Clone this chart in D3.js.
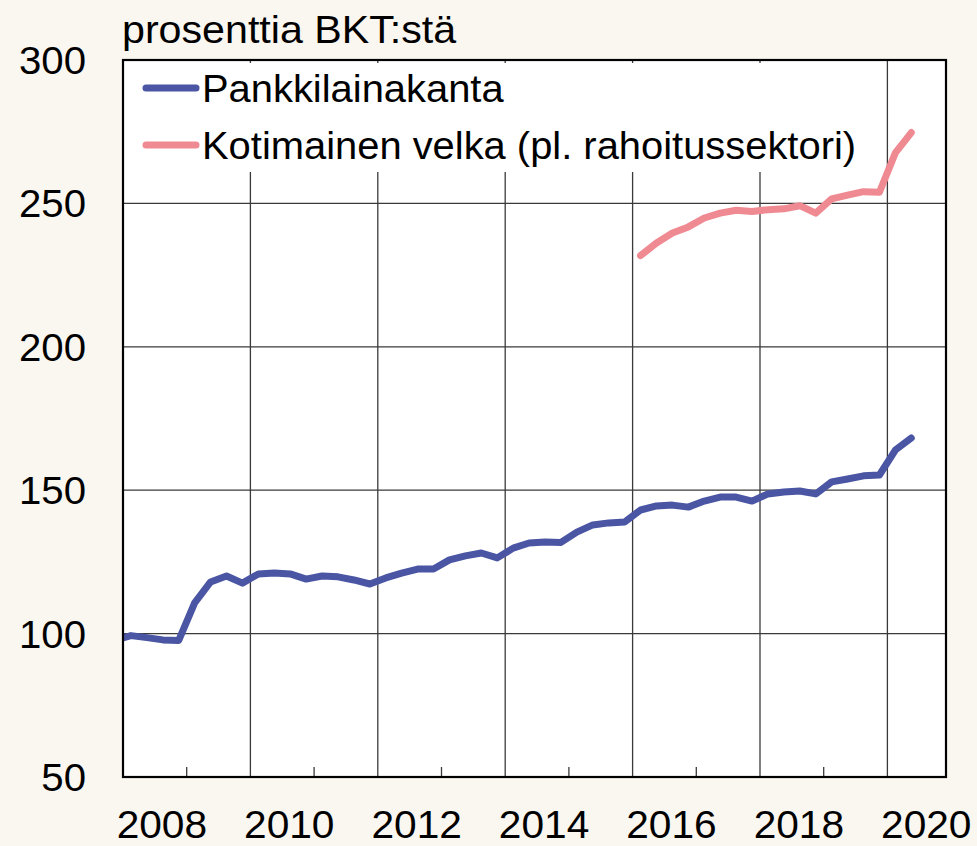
<!DOCTYPE html>
<html>
<head>
<meta charset="utf-8">
<script src="https://cdn.jsdelivr.net/npm/d3@7"></script>
<style>
  html, body { margin: 0; padding: 0; background: #faf6f0; }
  svg { display: block; font-family: "Liberation Sans", Arial, sans-serif; }
</style>
</head>
<body>
<svg id="chart" width="977" height="846"></svg>
<script>
// ---- data ----
const quarters = [
  "2007Q4",
  "2008Q1","2008Q2","2008Q3","2008Q4",
  "2009Q1","2009Q2","2009Q3","2009Q4",
  "2010Q1","2010Q2","2010Q3","2010Q4",
  "2011Q1","2011Q2","2011Q3","2011Q4",
  "2012Q1","2012Q2","2012Q3","2012Q4",
  "2013Q1","2013Q2","2013Q3","2013Q4",
  "2014Q1","2014Q2","2014Q3","2014Q4",
  "2015Q1","2015Q2","2015Q3","2015Q4",
  "2016Q1","2016Q2","2016Q3","2016Q4",
  "2017Q1","2017Q2","2017Q3","2017Q4",
  "2018Q1","2018Q2","2018Q3","2018Q4",
  "2019Q1","2019Q2","2019Q3","2019Q4",
  "2020Q1","2020Q2"
];
const pankkilainakanta = [
  97.8,
  99.3, 98.6, 97.8, 97.6,
  110.7, 118.0, 120.1, 117.6,
  120.8, 121.1, 120.8, 119.0,
  120.1, 119.8, 118.7, 117.3,
  119.4, 121.1, 122.5, 122.5,
  125.7, 127.1, 128.1, 126.4,
  129.8, 131.6, 131.9, 131.8,
  135.4, 137.9, 138.6, 138.9,
  143.1, 144.5, 144.8, 144.1,
  146.2, 147.6, 147.6, 146.2,
  148.7, 149.4, 149.7, 148.7,
  152.9, 153.9, 155.0, 155.3,
  164.0, 168.2
];
const kotimainenVelka = [
  null,
  null, null, null, null,
  null, null, null, null,
  null, null, null, null,
  null, null, null, null,
  null, null, null, null,
  null, null, null, null,
  null, null, null, null,
  null, null, null, null,
  231.8, 236.2, 239.7, 241.8,
  244.9, 246.6, 247.6, 247.2,
  247.8, 248.1, 249.2, 246.6,
  251.6, 252.9, 254.1, 253.9,
  267.6, 274.7
];
const seriesNames = ["Pankkilainakanta", "Kotimainen velka (pl. rahoitussektori)"];
const seriesColors = ["#4a55a3", "#f08a92"];
const yTicks = [50, 100, 150, 200, 250, 300];
const xLabelYears = [2008, 2010, 2012, 2014, 2016, 2018, 2020];
const xGridYears = [2010, 2012, 2014, 2016, 2018, 2020];
const xMinorYears = [2009, 2011, 2013, 2015, 2017, 2019];
const yTitle = "prosenttia BKT:stä";

// ---- layout ----
const L = 123, R = 946, T = 60, B = 777;
const svg = d3.select("#chart");

const x = d3.scaleLinear().domain([2008, 2020.92]).range([L, R]);
const y = d3.scaleLinear().domain([50, 300]).range([B, T]);

function qToYear(q) {
  const yr = +q.slice(0, 4), qq = +q.slice(5);
  return yr + (qq - 0.5) / 4;
}
// text with slight horizontal stretch to match the reference's wider glyphs
function stretched(sel, px, py, sx) {
  return sel.attr("transform", `translate(${px},${py}) scale(${sx},1)`).attr("x", 0).attr("y", 0);
}

// plot background
svg.append("rect").attr("x", L).attr("y", T).attr("width", R - L).attr("height", B - T)
  .attr("fill", "#ffffff");

// grid
const grid = svg.append("g").attr("stroke", "#3a3a3a").attr("stroke-width", 1.3);
grid.selectAll("line.h").data(yTicks.filter(v => v > 50 && v < 300)).join("line")
  .attr("x1", L).attr("x2", R).attr("y1", d => y(d)).attr("y2", d => y(d));
grid.selectAll("line.v").data(xGridYears).join("line")
  .attr("x1", d => x(d)).attr("x2", d => x(d)).attr("y1", T).attr("y2", B);
grid.selectAll("line.m").data(xMinorYears).join("line")
  .attr("x1", d => x(d)).attr("x2", d => x(d)).attr("y1", B - 10).attr("y2", B);

// legend background (covers gridlines)
svg.append("rect").attr("x", L + 1).attr("y", T + 3).attr("width", 747).attr("height", 109)
  .attr("fill", "#ffffff");

// clip
svg.append("clipPath").attr("id", "clip").append("rect")
  .attr("x", L).attr("y", T).attr("width", R - L).attr("height", B - T);

const line = d3.line()
  .defined(d => d.v != null)
  .x(d => x(qToYear(d.q)))
  .y(d => y(d.v));

const allSeries = [pankkilainakanta, kotimainenVelka];
allSeries.forEach((vals, i) => {
  const pts = quarters.map((q, j) => ({ q, v: vals[j] }));
  svg.append("path").datum(pts)
    .attr("clip-path", "url(#clip)")
    .attr("fill", "none")
    .attr("stroke", seriesColors[i])
    .attr("stroke-width", 7)
    .attr("stroke-linejoin", "round")
    .attr("stroke-linecap", "round")
    .attr("d", line);
});

// border
svg.append("rect").attr("x", L).attr("y", T).attr("width", R - L).attr("height", B - T)
  .attr("fill", "none").attr("stroke", "#000").attr("stroke-width", 2.2);

// y tick labels
svg.append("g").selectAll("text").data(yTicks).join("text")
  .each(function (d) { stretched(d3.select(this), 86, y(d), 1.03); })
  .attr("dy", "0.36em")
  .attr("text-anchor", "end").attr("font-size", 39).attr("fill", "#000")
  .text(d => d);

// x tick labels
svg.append("g").selectAll("text").data(xLabelYears).join("text")
  .each(function (d) { stretched(d3.select(this), x(d + 0.61), 838, 1.07); })
  .attr("text-anchor", "middle").attr("font-size", 38).attr("fill", "#000")
  .text(d => d);

// title
stretched(svg.append("text"), 122, 43, 1.07)
  .attr("font-size", 38.5).attr("fill", "#000")
  .text(yTitle);

// legend
const legY = [88, 145];
seriesNames.forEach((name, i) => {
  svg.append("line").attr("x1", 146).attr("x2", 196).attr("y1", legY[i]).attr("y2", legY[i])
    .attr("stroke", seriesColors[i]).attr("stroke-width", 7).attr("stroke-linecap", "round");
  stretched(svg.append("text"), 202, legY[i], 1.05).attr("dy", "0.36em")
    .attr("font-size", 38).attr("fill", "#000").text(name);
});
</script>
</body>
</html>
